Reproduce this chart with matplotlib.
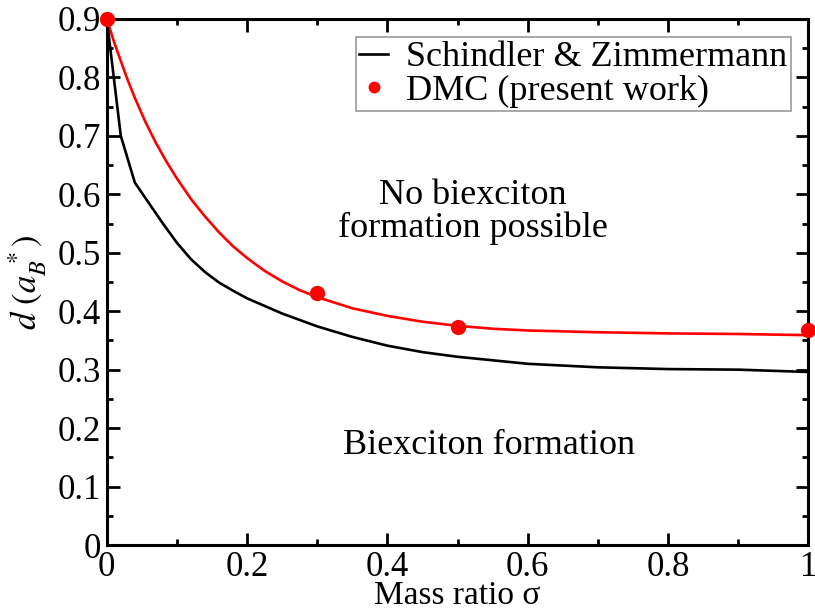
import numpy as np
import matplotlib
matplotlib.use("Agg")
from matplotlib import pyplot as plt
from matplotlib.ticker import MultipleLocator

plt.rcParams['font.family'] = ['Liberation Serif', 'DejaVu Serif']
plt.rcParams['mathtext.fontset'] = 'stix'

# Schindler & Zimmermann critical distance curve
sz_sigma = [0.0, 0.02, 0.04, 0.06, 0.08, 0.10, 0.12, 0.14, 0.16, 0.18, 0.2,
            0.25, 0.3, 0.35, 0.4, 0.45, 0.5, 0.6, 0.7, 0.8, 0.9, 1.0]
sz_d = [0.9, 0.70, 0.62, 0.585, 0.55, 0.517, 0.489, 0.467, 0.449, 0.435, 0.422,
        0.396, 0.374, 0.356, 0.341, 0.330, 0.322, 0.310, 0.304, 0.301, 0.300, 0.296]

# fit through the DMC results
fit_sigma = [0.0, 0.01, 0.02, 0.03, 0.04, 0.055, 0.07, 0.085, 0.10, 0.12, 0.14,
             0.16, 0.18, 0.2, 0.225, 0.25, 0.275, 0.3, 0.35, 0.4, 0.45, 0.5,
             0.55, 0.6, 0.7, 0.8, 0.9, 1.0]
fit_d = [0.9, 0.862, 0.828, 0.795, 0.765, 0.724, 0.688, 0.656, 0.627, 0.592, 0.562,
         0.535, 0.511, 0.491, 0.469, 0.451, 0.436, 0.424, 0.405, 0.392, 0.382, 0.375,
         0.370, 0.367, 0.364, 0.362, 0.361, 0.359]

# DMC points
dmc_sigma = [0.0, 0.3, 0.5, 1.0]
dmc_d = [0.9, 0.431, 0.373, 0.367]

fig = plt.figure(figsize=(8.15, 6.11), dpi=100)
ax = fig.add_axes([0.131, 0.108, 0.861, 0.861])

ax.plot(fit_sigma, fit_d, color='red', lw=1.9, zorder=3)
ax.plot(sz_sigma, sz_d, color='black', lw=1.9, label='Schindler & Zimmermann', zorder=3)
ax.plot(dmc_sigma, dmc_d, 'o', color='red', ms=10, mec='red', clip_on=False,
        zorder=5, label='DMC (present work)')

ax.set_xlim(0, 1)
ax.set_ylim(0, 0.9)
ax.xaxis.set_minor_locator(MultipleLocator(0.1))
ax.yaxis.set_minor_locator(MultipleLocator(0.05))
ax.set_xticks([0, 0.2, 0.4, 0.6, 0.8, 1.0])
ax.set_xticklabels(['0', '0.2', '0.4', '0.6', '0.8', '1'])
ax.set_yticks(np.arange(0, 0.91, 0.1))
ax.set_yticklabels(['0', '0.1', '0.2', '0.3', '0.4', '0.5', '0.6', '0.7', '0.8', '0.9'])

ax.tick_params(which='both', direction='in', top=True, right=True, width=2,
               labelsize=25, pad=4)
ax.tick_params(which='major', length=9)
ax.tick_params(which='minor', length=4.5)
for s in ax.spines.values():
    s.set_linewidth(2.2)

ax.set_xlabel('Mass ratio σ', fontsize=24, labelpad=-2)
ax.set_ylabel(r'$d\ (a_B^{\ *})$', fontsize=25, labelpad=6)

ax.text(0.522, 0.57, 'No biexciton\nformation possible', fontsize=26,
        ha='center', va='center', linespacing=1.0)
ax.text(0.545, 0.171, 'Biexciton formation', fontsize=26, ha='center', va='center')

leg = ax.legend(loc='upper right', bbox_to_anchor=(0.975, 0.965), fontsize=26,
                frameon=True, fancybox=False, edgecolor='grey', handlelength=0.8,
                handletextpad=0.5, borderpad=0.1, labelspacing=0.0,
                borderaxespad=0, markerscale=0.75)
leg.get_frame().set_linewidth(1.2)

fig.savefig('out.png', dpi=100)
